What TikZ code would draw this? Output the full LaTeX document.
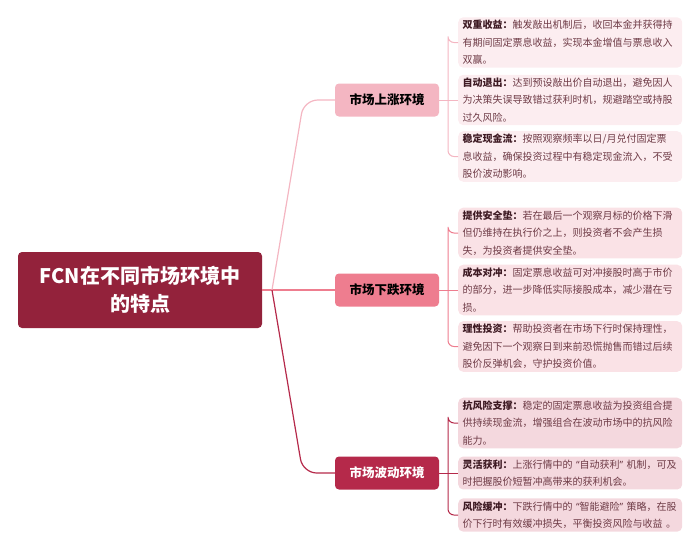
\documentclass[tikz,border=0pt]{standalone}
\usepackage{fontspec}
\setmainfont{Noto Sans CJK SC}
\newfontfamily\quotefont{Noto Sans}
\usepackage{xcolor}
\usetikzlibrary{positioning,calc}

\definecolor{rootred}{HTML}{93223B}
\definecolor{upfill}{HTML}{F4B6C2}
\definecolor{downfill}{HTML}{EE7D8F}
\definecolor{wavefill}{HTML}{B5294A}
\definecolor{upleaf}{HTML}{FCEDF0}
\definecolor{downleaf}{HTML}{FAE2E6}
\definecolor{waveleaf}{HTML}{F4D8DE}
\definecolor{leafhead}{HTML}{3E1A23}
\definecolor{leafbody}{HTML}{6E3B46}

\newcommand{\hd}[1]{{\bfseries\color{leafhead}#1}}
\newcommand{\qt}[1]{{\quotefont\char"201C}#1{\quotefont\char"201D}}

\begin{document}
\begin{tikzpicture}[x=1pt,y=-1pt,
  rootbox/.style={fill=rootred,text=white,rounded corners=4pt,minimum width=244pt,minimum height=76pt,
    align=center,font=\fontsize{20}{28}\selectfont\bfseries},
  envbox/.style={rounded corners=4pt,minimum width=104pt,minimum height=33pt,font=\fontsize{12.5}{15}\selectfont\bfseries},
  leaf/.style={rounded corners=5pt,text width=215pt,inner xsep=4.5pt,inner ysep=3pt,align=left,anchor=west,
    text=leafbody,font=\fontsize{10}{17.5}\selectfont},
  link/.style={line width=1.2pt}]
\useasboundingbox (0,0) rectangle (700,547);

% centre
\node[rootbox] (fcn) at (140,290) {FCN在不同市场环境中\\的特点};

% three market cases
\node[envbox,fill=upfill] (up) at (387,100) {市场上涨环境};
\node[envbox,fill=downfill] (down) at (387,290) {市场下跌环境};
\node[envbox,fill=wavefill,text=white] (wave) at (387,473) {市场波动环境};

\coordinate (fork) at (272,290);
\draw[link,downfill] (fcn.east)--(down.west);
\draw[link,upfill,rounded corners=14pt] (fork)--($(up.west)+(-31,0)$)--(up.west);
\draw[link,wavefill,rounded corners=14pt] (fork)--($(wave.west)+(-32,0)$)--(wave.west);

% up
\node[leaf,fill=upleaf] (u1) at (458,42.5) {\hd{双重收益：}触发敲出机制后，收回本金并获得持\\有期间固定票息收益，实现本金增值与票息收入\\双赢。};
\node[leaf,fill=upleaf] (u2) at (458,100) {\hd{自动退出：}达到预设敲出价自动退出，避免因人\\为决策失误导致错过获利时机，规避踏空或持股\\过久风险。};
\node[leaf,fill=upleaf] (u3) at (458,156.5) {\hd{稳定现金流：}按照观察频率以日/月兑付固定票\\息收益，确保投资过程中有稳定现金流入，不受\\股价波动影响。};
\draw[link,upfill,line width=1pt,rounded corners=6pt] (u1.west)-|($(u1.west)+(-10,0)$)|-(u3.west);
\draw[link,upfill,line width=1pt] (up.east)--(u2.west);

% down
\node[leaf,fill=downleaf] (d1) at (458,233) {\hd{提供安全垫：}若在最后一个观察月标的价格下滑\\但仍维持在执行价之上，则投资者不会产生损\\失，为投资者提供安全垫。};
\node[leaf,fill=downleaf] (d2) at (458,290) {\hd{成本对冲：}固定票息收益可对冲接股时高于市价\\的部分，进一步降低实际接股成本，减少潜在亏\\损。};
\node[leaf,fill=downleaf] (d3) at (458,346.5) {\hd{理性投资：}帮助投资者在市场下行时保持理性，\\避免因下一个观察日到来前恐慌抛售而错过后续\\股价反弹机会，守护投资价值。};
\draw[link,downfill,line width=1pt,rounded corners=6pt] (d1.west)-|($(d1.west)+(-10,0)$)|-(d3.west);
\draw[link,downfill,line width=1pt] (down.east)--(d2.west);

% wave
\node[leaf,fill=waveleaf] (w1) at (458,423) {\hd{抗风险支撑：}稳定的固定票息收益为投资组合提\\供持续现金流，增强组合在波动市场中的抗风险\\能力。};
\node[leaf,fill=waveleaf] (w2) at (458,473) {\hd{灵活获利：}上涨行情中的~\qt{自动获利}~机制，可及\\时把握股价短暂冲高带来的获利机会。};
\node[leaf,fill=waveleaf] (w3) at (458,515) {\hd{风险缓冲：}下跌行情中的~\qt{智能避险}~策略，在股\\价下行时有效缓冲损失，平衡投资风险与收益~。};
\draw[link,wavefill,line width=1pt,rounded corners=6pt] (w1.west)-|($(w1.west)+(-10,0)$)|-(w3.west);
\draw[link,wavefill,line width=1pt] (wave.east)--(w2.west);
\end{tikzpicture}
\end{document}
